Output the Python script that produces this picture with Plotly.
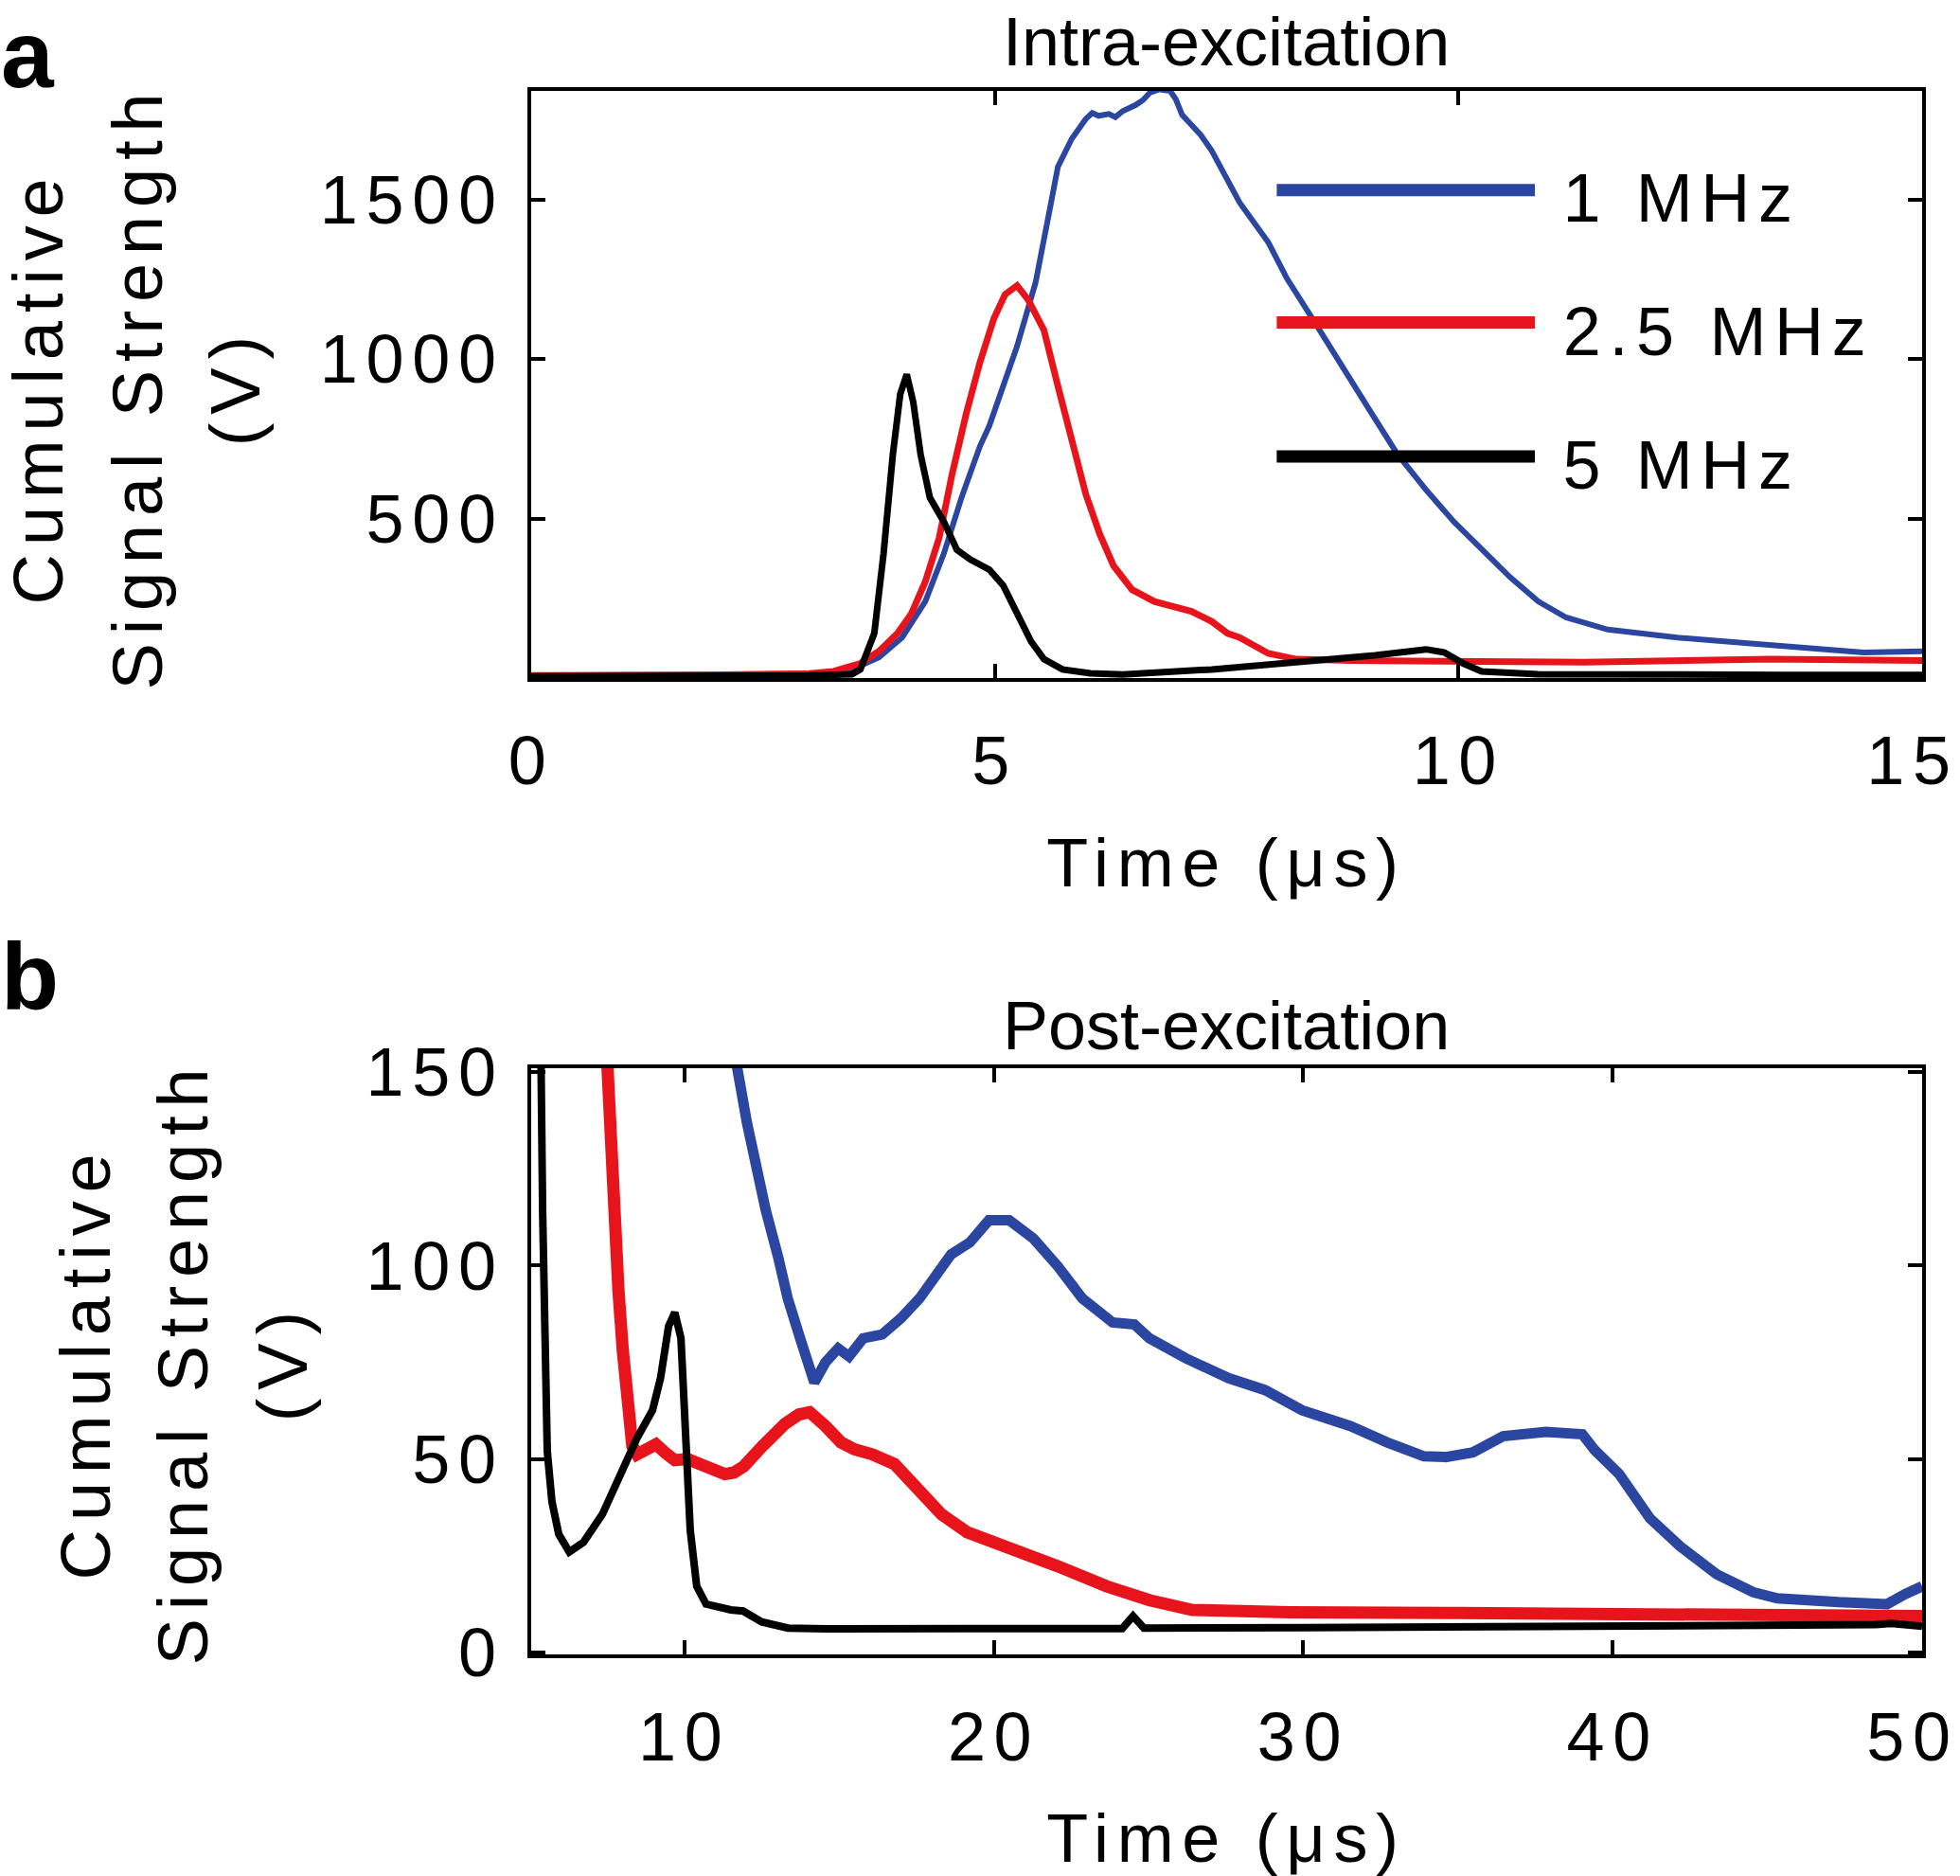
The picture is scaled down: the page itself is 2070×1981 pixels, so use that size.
import plotly.graph_objects as go

# ---------------- data: panel a (Intra-excitation) ----------------
blue_a_t = [0, 1, 2, 3.0, 3.3, 3.46, 3.75, 4.0, 4.25, 4.45, 4.64, 4.84, 4.94, 5.04, 5.24, 5.38, 5.44,
            5.59, 5.68, 5.83, 5.98, 6.05, 6.12, 6.23, 6.3, 6.38, 6.45, 6.52, 6.6, 6.67, 6.77, 6.89,
            6.95, 7.02, 7.1, 7.22, 7.34, 7.64, 7.95, 8.15, 8.45, 8.74, 9.04, 9.34, 9.65, 9.95, 10.25,
            10.56, 10.86, 11.16, 11.61, 12.36, 13.12, 13.87, 14.37, 15.0]
blue_a_v = [8, 8, 9, 12, 18, 27, 65, 127, 240, 390, 565, 727, 790, 870, 1040, 1180, 1240,
            1465, 1602, 1690, 1752, 1771, 1762, 1768, 1758, 1777, 1785, 1796, 1812, 1834, 1845, 1840,
            1815, 1765, 1740, 1702, 1652, 1490, 1365, 1252, 1115, 977, 840, 702, 590, 490, 402,
            315, 240, 190, 152, 127, 109, 90, 80, 84]

red_a_t = [0, 1, 2, 3.0, 3.26, 3.55, 3.75, 3.95, 4.1, 4.25, 4.40, 4.54, 4.69, 4.84, 4.99, 5.11,
           5.24, 5.36, 5.45, 5.53, 5.68, 5.83, 5.98, 6.13, 6.28, 6.48, 6.72, 7.12, 7.34, 7.51,
           7.64, 7.95, 8.25, 8.85, 9.85, 11.36, 13.36, 15.0]
red_a_v = [8, 8, 10, 14, 21, 46, 84, 140, 202, 302, 440, 640, 827, 990, 1127, 1202,
           1230, 1185, 1140, 1090, 915, 740, 577, 452, 352, 277, 240, 209, 177, 140,
           127, 77, 59, 55, 52, 50, 59, 55]

black_a_t = [0, 1, 2, 3.0, 3.46, 3.55, 3.70, 3.80, 3.90, 3.98, 4.05, 4.12, 4.2, 4.3, 4.45, 4.59,
             4.74, 4.94, 5.09, 5.24, 5.39, 5.53, 5.73, 6.03, 6.38, 7.34, 8.35, 9.10, 9.65, 9.85,
             10.05, 10.25, 10.86, 12, 13.5, 15]
black_a_v = [5, 5, 6, 8, 12, 27, 140, 390, 700, 890, 952, 865, 700, 565, 490, 402,
             371, 340, 290, 202, 115, 59, 27, 15, 11, 27, 52, 71, 90, 80,
             46, 21, 12, 10, 10, 10]

# ---------------- data: panel b (Post-excitation) ----------------
blue_b_t = [11.6, 11.71, 12.02, 12.32, 12.63, 13.04, 13.34, 13.74, 14.2, 14.56, 14.97, 15.32, 15.78,
            16.39, 17.0, 17.6, 18.11, 18.62, 19.23, 19.84, 20.5, 21.28, 22.07, 22.86, 23.84, 24.54,
            25.03, 26.21, 27.59, 28.77, 29.96, 31.53, 32.71, 33.9, 34.6, 35.48, 36.46, 37.84, 39.02,
            39.42, 40.21, 41.2, 42.17, 43.36, 44.54, 45.32, 47.3, 48.87, 49.46, 50]
blue_b_v = [160, 151, 137, 124.6, 114.3, 101.9, 91.5, 81.2, 69.8, 75, 78.6, 76.5, 81.2,
            82.2, 86.4, 91.5, 96.7, 102.9, 106, 111.7, 111.7, 107, 99.8, 91.5, 85.3, 84.8,
            81.2, 76, 70.9, 67.8, 62.6, 58.5, 54.3, 50.7, 50.5, 51.7, 55.9, 57, 56.4,
            52.3, 46.1, 34.7, 27.5, 20.2, 15.6, 14, 13, 12.5, 15.1, 17.1]

red_b_t = [7.4, 7.5, 7.65, 7.76, 7.87, 8.01, 8.16, 8.32, 8.47, 8.8, 9.08, 9.4, 9.69, 10.1, 10.5,
           10.9, 11.31, 11.6, 11.92, 12.52, 13.24, 13.7, 14.05, 14.56, 15.06, 15.5, 16.08, 16.79,
           17.6, 18.31, 19.13, 20.04, 20.7, 22.06, 23.65, 25.03, 26.41, 29.56, 35, 39.4, 45, 49.86, 50]
red_b_v = [170, 151, 124.6, 109, 93.6, 78, 62.6, 53.3, 51.2, 52.5, 53.8, 51.5, 49.7, 50, 48.7,
           47.5, 46.1, 46.5, 48.1, 53.3, 59, 61.5, 62.1, 58.5, 54.3, 52.5, 51.2, 48.7,
           41.9, 35.7, 31.1, 28.5, 26.4, 22.3, 17.1, 13.5, 11, 10.4, 10.2, 9.9, 9.7, 9.4, 9.4]

black_b_t = [5.3, 5.37, 5.42, 5.48, 5.57, 5.72, 5.94, 6.28, 6.74, 7.35, 7.96, 8.47, 8.97, 9.23,
             9.49, 9.69, 9.89, 10.04, 10.19, 10.4, 10.7, 11.5, 11.9, 12.5, 13.35, 14.6, 20.2,
             24.15, 24.5, 24.85, 30, 40, 45, 48.5, 49.0, 49.5, 50]
black_b_v = [170, 151, 114, 73, 52, 39, 30.6, 26, 28.5, 35.7, 46, 55.4, 62.6, 70.9,
             84.3, 87.9, 81.2, 52.3, 31.6, 17.1, 12.5, 11, 10.7, 7.9, 6.3, 6.1, 6.1,
             6.2, 9.4, 6.3, 6.4, 6.6, 6.8, 7.2, 7.5, 7.0, 6.8]

series_names = ["1 MHz", "2.5 MHz", "5 MHz"]
colors = ["#2A46A0", "#E8141C", "#000000"]

xa_ticks = [0, 5, 10, 15]
xa_text = ["0", "5", "10", "15"]
ya_ticks = [500, 1000, 1500]
ya_text = ["500", "1000", "1500"]
xb_ticks = [10, 20, 30, 40, 50]
xb_text = ["10", "20", "30", "40", "50"]
yb_ticks = [0, 50, 100, 150]
yb_text = ["0", "50", "100", "150"]

FONT = "Liberation Sans, Arial, Helvetica, sans-serif"
LS = 0.12  # letter spacing (em) used for the spaced labels

fig = go.Figure()

panel_a = [(blue_a_t, blue_a_v), (red_a_t, red_a_v), (black_a_t, black_a_v)]
panel_b = [(blue_b_t, blue_b_v), (red_b_t, red_b_v), (black_b_t, black_b_v)]
widths_a = [6, 7, 7]
widths_b = [11, 13, 8]

for (t, v), name, c, w in zip(panel_a, series_names, colors, widths_a):
    fig.add_trace(go.Scatter(x=t, y=v, mode="lines", name=name, line=dict(color=c, width=w),
                             xaxis="x", yaxis="y", showlegend=False))
for (t, v), name, c, w in zip(panel_b, series_names, colors, widths_b):
    fig.add_trace(go.Scatter(x=t, y=v, mode="lines", name=name, line=dict(color=c, width=w),
                             xaxis="x2", yaxis="y2", showlegend=False))

axis_common = dict(showgrid=False, zeroline=False, showline=True, linecolor="black", linewidth=4,
                   mirror="ticks", ticks="inside", ticklen=15, tickwidth=4, tickcolor="black",
                   tickfont=dict(family=FONT, size=72, color="black"), tickmode="array",
                   ticklabeloverflow="allow")

X_DOM = [561 / 2070, 2030 / 2070]
fig.update_layout(
    width=2070, height=1981,
    margin=dict(l=0, r=0, t=0, b=0, autoexpand=False),
    paper_bgcolor="white", plot_bgcolor="white",
    font=dict(family=FONT, color="black"),
    xaxis=dict(domain=X_DOM, range=[0, 15], tickvals=xa_ticks, ticktext=xa_text,
               anchor="y", ticklabelstandoff=22, **axis_common),
    yaxis=dict(domain=[1 - 716 / 1981, 1 - 96 / 1981], range=[0, 1840], tickvals=ya_ticks,
               ticktext=ya_text, anchor="x", ticklabelstandoff=10, **axis_common),
    xaxis2=dict(domain=X_DOM, range=[5.05, 50], tickvals=xb_ticks, ticktext=xb_text,
                anchor="y2", ticklabelstandoff=22, **axis_common),
    yaxis2=dict(domain=[1 - 1747 / 1981, 1 - 1128 / 1981], range=[-0.5, 151], tickvals=yb_ticks,
                ticktext=yb_text, anchor="x2", ticklabelstandoff=10, **axis_common),
)

def ann(text, x, y, size=72, angle=0, xanchor="center", yanchor="middle", xref="paper", yref="paper"):
    fig.add_annotation(text=text, x=x, y=y, xref=xref, yref=yref, showarrow=False,
                       textangle=angle, xanchor=xanchor, yanchor=yanchor, borderpad=0,
                       font=dict(family=FONT, size=size, color="black"))

W, H = 2070, 1981
px = lambda v: v / W
py = lambda v: 1 - v / H

# panel letters
ann("<b>a</b>", 0, 1, size=100, xanchor="left", yanchor="top")
ann("<b>b</b>", 0, py(1031), size=100, xanchor="left")
# panel titles
ann("Intra-excitation", px(1295), py(44), size=72)
ann("Post-excitation", px(1295), py(1083), size=72)
# x titles
ann("Time (μs)", px(1295), py(911), size=72)
ann("Time (μs)", px(1295), py(1941), size=72)
# y titles (three lines)
for txt, xc in zip(["Cumulative", "Signal Strength", "(V)"], [41, 146, 249]):
    ann(txt, px(xc), py(409), size=74, angle=-90)
for txt, xc in zip(["Cumulative", "Signal Strength", "(V)"], [90, 193, 298]):
    ann(txt, px(xc), py(1439), size=74, angle=-90)

# legend (panel a): long line samples and labels
PLOT_W = 2030 - 561
leg_line_y = [0.831, 0.6055, 0.3776]
leg_text_y = [0.8177, 0.590, 0.363]
for name, c, ly, ty in zip(series_names, colors, leg_line_y, leg_text_y):
    fig.add_shape(type="line", xref="x domain", yref="y domain", x0=0.536, x1=0.7216,
                  y0=ly, y1=ly, line=dict(color=c, width=13), layer="above")
    # compensate for the letter spacing added around the centred text
    shift = len(name) * LS * 72 / 2 / PLOT_W
    ann(name, 0.741 + shift, ty, size=72, xanchor="left", xref="x domain", yref="y domain")

post_js = """
document.body.style.margin = '0';
var gd = document.getElementById('{plot_id}');
var spaced = ['1 MHz', '2.5 MHz', '5 MHz', 'Time (μs)', 'Cumulative', 'Signal Strength', '(V)'];
gd.querySelectorAll('.xtick text, .ytick text, .x2tick text, .y2tick text').forEach(function (t) {
  t.style.letterSpacing = '%sem';
});
gd.querySelectorAll('.xtick text, .x2tick text').forEach(function (t) {
  if (t.textContent === '%s' || t.textContent === '%s') { t.setAttribute('dx', '-10'); }
});
gd.querySelectorAll('.annotation-text').forEach(function (t) {
  if (spaced.indexOf(t.textContent) >= 0) { t.style.letterSpacing = '%sem'; }
});
""" % (LS, xa_text[-1], xb_text[-1], LS)

fig.write_html("out.html", post_script=post_js, config={"displayModeBar": False})
